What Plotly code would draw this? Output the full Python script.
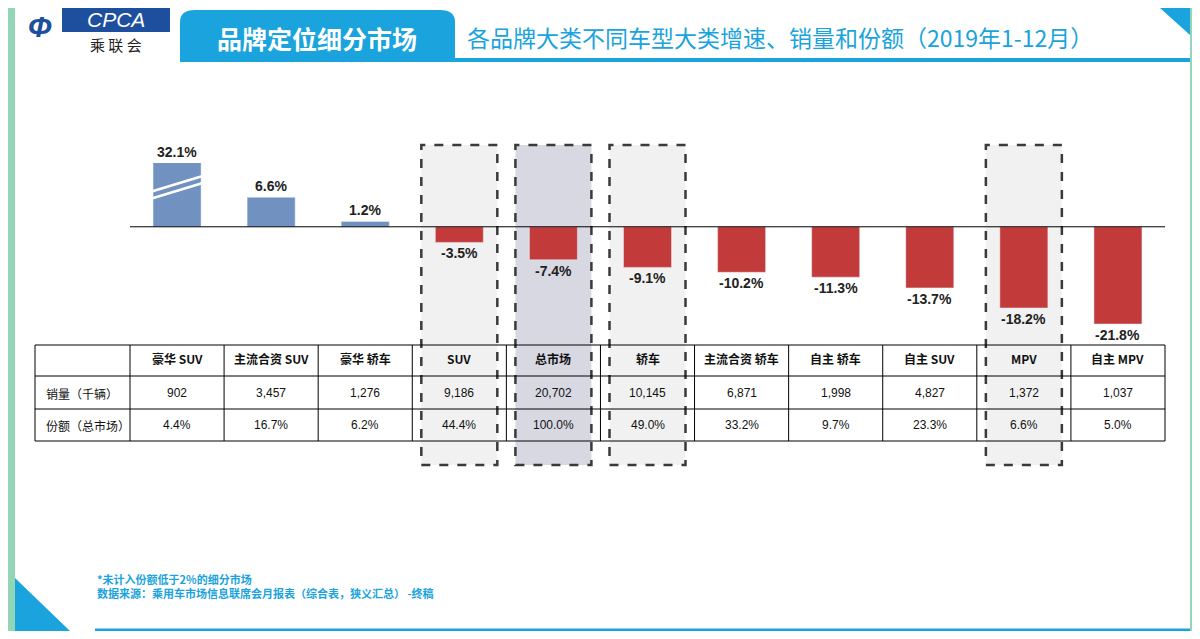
import plotly.graph_objects as go

categories = ["豪华 SUV", "主流合资 SUV", "豪华 轿车", "SUV", "总市场", "轿车", "主流合资 轿车", "自主 轿车", "自主 SUV", "MPV", "自主 MPV"]
growth = [32.1, 6.6, 1.2, -3.5, -7.4, -9.1, -10.2, -11.3, -13.7, -18.2, -21.8]
sales = ["902", "3,457", "1,276", "9,186", "20,702", "10,145", "6,871", "1,998", "4,827", "1,372", "1,037"]
share = ["4.4%", "16.7%", "6.2%", "44.4%", "100.0%", "49.0%", "33.2%", "9.7%", "23.3%", "6.6%", "5.0%"]
row_labels = ["销量（千辆）", "份额（总市场）"]
highlight = [3, 4, 5, 9]

OFF = 8
W, H = 1200 - 2 * OFF, 639 - 2 * OFF
def px(x): return (x - OFF) / W
def py(y): return 1 - (y - OFF) / H

X0, X1 = 130, 1165
cw = (X1 - X0) / len(categories)
ymax, ymin = 14.3, -26.5
ytop, ybot = 163, 345

blue, red = "#7191c0", "#c33a3a"
fig = go.Figure()
fig.add_bar(x=list(range(len(categories))), y=growth, width=0.51,
            marker_color=[blue if v > 0 else red for v in growth], cliponaxis=True)
fig.update_layout(width=W, height=H, margin=dict(l=0, r=0, t=0, b=0), showlegend=False,
                  plot_bgcolor="rgba(0,0,0,0)", paper_bgcolor="white",
                  xaxis=dict(domain=[px(X0), px(X1)], range=[-0.5, len(categories) - 0.5], visible=False),
                  yaxis=dict(domain=[py(ybot), py(ytop)], range=[ymin, ymax], visible=False))
shapes, ann = [], []
def A(x, y, text, size=12, color="#111", xa="center", ya="middle", family="Noto Sans CJK SC", **kw):
    ann.append(dict(x=x, y=y, xref="paper", yref="paper", text=text, showarrow=False, xanchor=xa, yanchor=ya,
                    font=dict(size=size, color=color, family=family), **kw))

shapes.append(dict(type="line", xref="paper", yref="y", x0=px(X0), x1=px(X1), y0=0, y1=0, line=dict(color="black", width=1)))
for i in highlight:
    cx = X0 + cw * (i + 0.5)
    shapes.append(dict(type="rect", xref="paper", yref="paper", x0=px(cx - 38), x1=px(cx + 38), y0=py(465), y1=py(145),
                       fillcolor="#d8d8e2" if categories[i] == "总市场" else "#f1f1f1",
                       line=dict(color="#3a3a3a", width=2.5, dash="dash"), layer="below"))
for i, v in enumerate(growth):
    yv = min(v, ymax)
    ann.append(dict(x=i, y=yv, xref="x", yref="y", text=f"<b>{v:.1f}%</b>", showarrow=False, xanchor="center",
                    yanchor="bottom" if v > 0 else "top", yshift=1 if v > 0 else -1,
                    font=dict(size=14, color="#222", family="Arial")))
for dy in (0, 7):
    shapes.append(dict(type="line", xref="paper", yref="paper", x0=px(150), x1=px(206), y0=py(192 + dy), y1=py(175 + dy),
                       line=dict(color="white", width=2.5)))
rows_y = [345, 376, 409, 441]
for y in rows_y:
    shapes.append(dict(type="line", xref="paper", yref="paper", x0=px(35), x1=px(X1), y0=py(y), y1=py(y), line=dict(color="black", width=1)))
for xe in [35] + [X0 + cw * k for k in range(len(categories) + 1)]:
    shapes.append(dict(type="line", xref="paper", yref="paper", x0=px(xe), x1=px(xe), y0=py(345), y1=py(441), line=dict(color="black", width=1)))
for i, c in enumerate(categories):
    cx = px(X0 + cw * (i + 0.5))
    A(cx, py(358), f"<b>{c}</b>")
    A(cx, py(393), sales[i], family="Arial")
    A(cx, py(425), share[i], family="Arial")
for r, t in zip([393, 425], row_labels):
    A(px(44), py(r), t, xa="left")
sb = "#1aa3dc"
shapes += [
    dict(type="rect", xref="paper", yref="paper", x0=0, x1=px(15), y0=0, y1=1, fillcolor="#93d5b7", line_width=0, layer="below"),
    dict(type="rect", xref="paper", yref="paper", x0=px(1190), x1=1, y0=0, y1=1, fillcolor="#93d5b7", line_width=0, layer="below"),
    dict(type="path", xref="paper", yref="paper",
         path=f"M {px(180)},{py(60)} L {px(180)},{py(22)} Q {px(180)},{py(10)} {px(195)},{py(10)} L {px(440)},{py(10)} Q {px(455)},{py(10)} {px(455)},{py(22)} L {px(455)},{py(60)} Z",
         fillcolor=sb, line_width=0),
    dict(type="line", xref="paper", yref="paper", x0=px(180), x1=px(1190), y0=py(60), y1=py(60), line=dict(color=sb, width=4)),
    dict(type="rect", xref="paper", yref="paper", x0=px(62), x1=px(170), y0=py(32), y1=py(8), fillcolor="#1d4f9e", line_width=0),
    dict(type="line", xref="paper", yref="paper", x0=px(95), x1=px(1190), y0=py(630), y1=py(630), line=dict(color=sb, width=3)),
    dict(type="path", xref="paper", yref="paper", path=f"M {px(15)},{py(578)} L {px(70)},{py(631)} L {px(15)},{py(631)} Z", fillcolor=sb, line_width=0),
    dict(type="path", xref="paper", yref="paper", path=f"M {px(1160)},{py(8)} L {px(1190)},{py(8)} L {px(1190)},{py(35)} Z", fillcolor=sb, line_width=0),
]
A(px(116), py(20), "<i>CPCA</i>", size=21, color="white", family="Arial")
A(px(116), py(44), "乘 联 会", size=15, color="#222")
A(px(40), py(27), "<b><i>Ф</i></b>", size=30, color="#1d4f9e", family="Arial")
A(px(317), py(38), "<b>品牌定位细分市场</b>", size=25, color="white")
A(px(465), py(37), "各品牌大类不同车型大类增速、销量和份额（2019年1-12月）", size=23, color=sb, xa="left")
A(px(95), py(586), "<b>*未计入份额低于2%的细分市场<br>数据来源：乘用车市场信息联席会月报表（综合表，狭义汇总） -终稿</b>",
  size=11, color=sb, xa="left", align="left")
fig.update_layout(shapes=shapes, annotations=ann)
fig.write_html("out.html")
